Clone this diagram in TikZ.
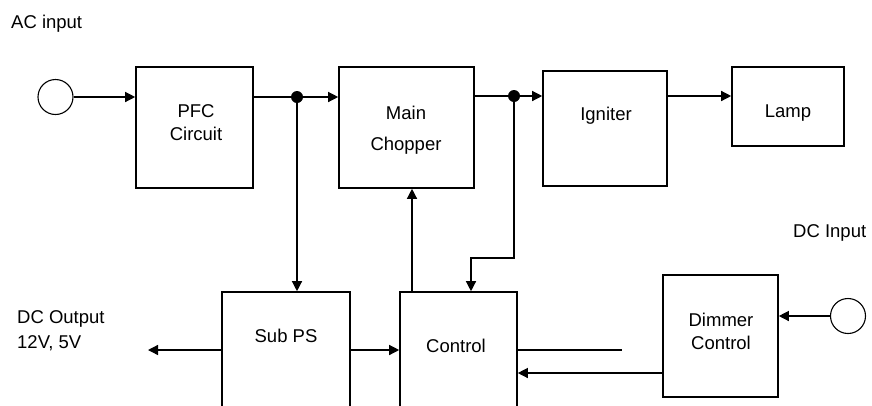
\documentclass[tikz,border=0pt]{standalone}
\usepackage{fontspec}
\setmainfont{Liberation Sans}
\usetikzlibrary{arrows.meta,fit}
\begin{document}
\begin{tikzpicture}[x=1pt,y=-1pt,
  box/.style={draw, line width=1.6pt, inner sep=0pt},
  conn/.style={line width=1.3pt},
  arr/.style={conn, -{Triangle[length=10pt,width=10pt]}},
  port/.style={draw, line width=1.1pt, circle, minimum size=35pt, inner sep=0pt},
  dot/.style={fill, circle, minimum size=12pt, inner sep=0pt},
  txt/.style={font=\fontsize{18.5}{23}\selectfont, inner sep=0pt}]
\useasboundingbox (0,0) rectangle (872,405);
\clip (0,0) rectangle (872,405);
% boxes
\node[box, fit={(136,67) (253,188)}] (pfc) {};
\node[box, fit={(339,67) (474,188)}] (mc) {};
\node[box, fit={(543,71) (667,186)}] (ign) {};
\node[box, fit={(732,67) (844,146)}] (lamp) {};
\node[box, fit={(222,292) (350,430)}] (sub) {};
\node[box, fit={(400,292) (517,430)}] (ctrl) {};
\node[box, fit={(663,275) (778,397)}] (dim) {};
% ports
\node[port] (acin) at (55.5,97) {};
\node[port] (dcin) at (848,316) {};
% junctions
\node[dot] (j1) at (297,97) {};
\node[dot] (j2) at (514,96) {};
% texts
\node[txt, anchor=base west] (tac) at (11,28) {AC input};
\node[txt, anchor=base west] (tdc) at (793,237) {DC Input};
\node[txt, anchor=base west, align=left, font=\fontsize{18.5}{25}\selectfont] (tdo) at (17,348) {DC Output\\12V, 5V};
\node[txt, anchor=base, align=center] (tpfc) at (196,140) {PFC\\Circuit};
\node[txt, anchor=base, align=center, font=\fontsize{18.5}{31}\selectfont] (tmc) at (406,150) {Main\\Chopper};
\node[txt, anchor=base] (tign) at (606,120) {Igniter};
\node[txt, anchor=base] (tlamp) at (788,117) {Lamp};
\node[txt, anchor=base] (tsub) at (286,342) {Sub PS};
\node[txt, anchor=base] (tctrl) at (456,352) {Control};
\node[txt, anchor=base, align=center] (tdim) at (721,349) {Dimmer\\Control};
% coordinates
\coordinate (up) at (412,292);
\coordinate (c1) at (471,258);
\coordinate (s1) at (350,350);
\coordinate (s2) at (222,350);
\coordinate (dco) at (148,350);
\coordinate (ce) at (517,350);
\coordinate (ce2) at (622,350);
\coordinate (d1) at (663,373);
% connectors
\draw[arr] (acin.east) -- (acin -| pfc.west);
\draw[conn] (j1 -| pfc.east) -- (j1);
\draw[arr] (j1) -- (j1 -| mc.west);
\draw[arr] (j1) -- (j1 |- sub.north);
\draw[conn] (j2 -| mc.east) -- (j2);
\draw[arr] (j2) -- (j2 -| ign.west);
\draw[arr] (ign.east |- j2) -- (lamp.west |- j2);
\draw[arr] (j2) |- (c1) -- (c1 |- ctrl.north);
\draw[arr] (up) -- (up |- mc.south);
\draw[arr] (s1) -- (s1 -| ctrl.west);
\draw[arr] (s2) -- (dco);
\draw[conn] (ce) -- (ce2);
\draw[arr] (d1) -- (d1 -| ctrl.east);
\draw[arr] (dcin.west) -- (dcin -| dim.east);
\end{tikzpicture}
\end{document}
